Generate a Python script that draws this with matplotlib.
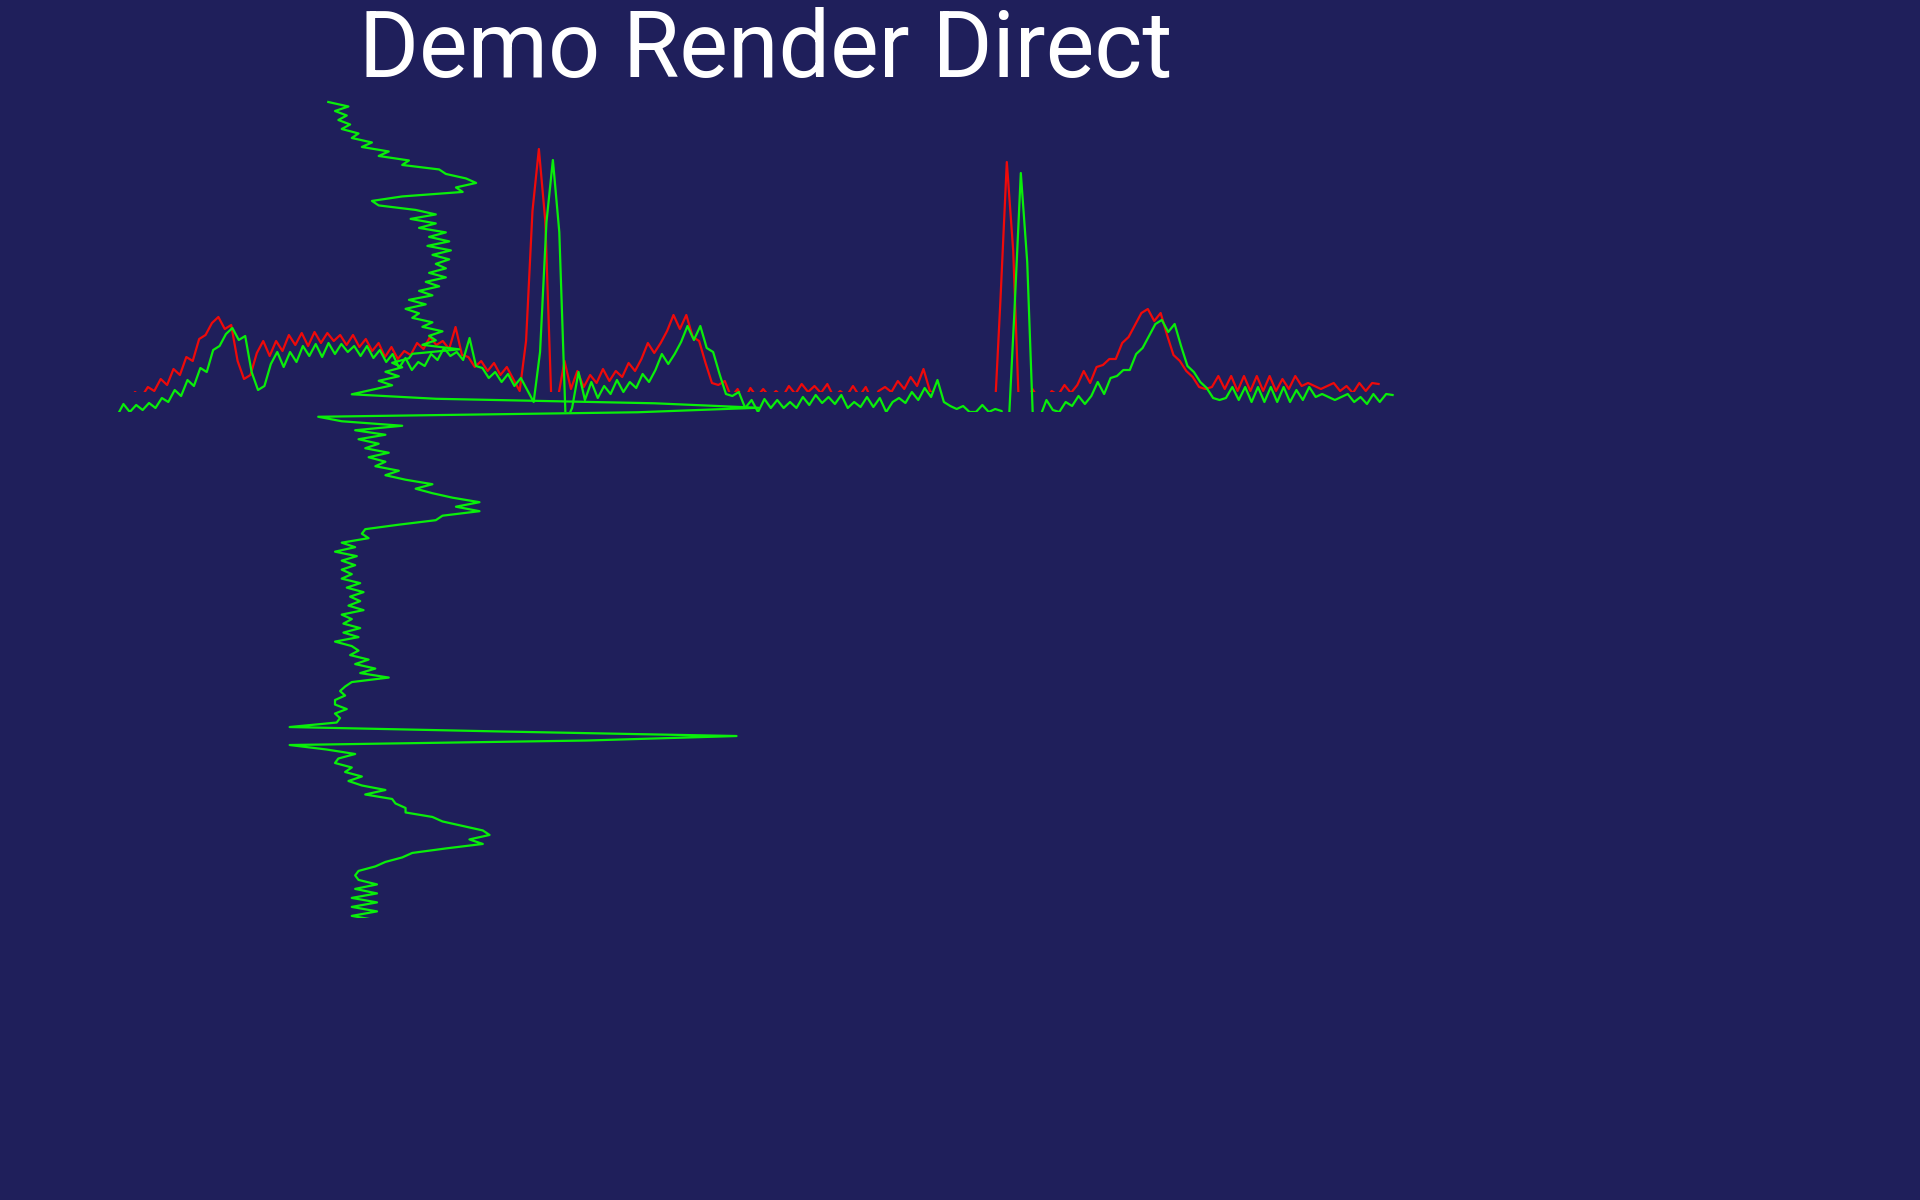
import numpy as np
import matplotlib
matplotlib.use("Agg")
import matplotlib.pyplot as plt

# one ECG trace (arbitrary counts), sampled at a fixed rate
ecg_counts = [
    -4, 8, 0, 7, 2, 9, 4, 14, 10, 22,
    16, 32, 26, 44, 40, 62, 66, 78, 84, 72,
    76, 40, 22, 26, 48, 60, 45, 60, 50, 66,
    56, 68, 55, 69, 58, 68, 60, 66, 56, 66,
    54, 62, 50, 58, 44, 54, 42, 50, 46, 58,
    52, 64, 56, 60, 52, 74, 46, 44, 34, 40,
    30, 38, 26, 34, 22, 10, 60, 190, 252, 180,
    -10, 4, 40, 12, 30, 14, 26, 18, 32, 20,
    30, 24, 38, 30, 42, 58, 48, 58, 70, 86,
    72, 86, 64, 60, 38, 18, 16, 20, 4, 12,
    0, 13, 4, 12, 4, 10, 4, 15, 7, 17,
    9, 15, 8, 17, 4, 10, 5, 15, 5, 14,
    0, 10, 14, 9, 20, 12, 24, 15, 32, 10,
    6, 3, 6, 0, 0, 7, 0, 3, 1, -27,
    100, 239, 150, -27, -5, 12, 2, 0, 10, 6,
    16, 8, 16, 30, 18, 34, 36, 42, 42, 58,
    64, 76, 88, 92, 80, 88, 66, 46, 40, 30,
    24, 14, 12, 14, 25, 12, 25, 10, 25, 10,
    25, 10, 25, 10, 22, 12, 25, 15, 18, 15,
    12, 15, 18, 10, 15, 8, 18, 10, 18, 17,
]
sample_idx = np.arange(len(ecg_counts))

TITLE = "Demo Render Direct"
BG = "#1f1f5b"
GREEN = "#0aee0a"
RED = "#ee0a0a"

W, H = 1920, 1200
fig = plt.figure(figsize=(W / 100, H / 100), dpi=100, facecolor=BG)


def px_axes(left, top, right, bottom):
    # axes placed by pixel box (origin top-left)
    ax = fig.add_axes([left / W, 1 - bottom / H, (right - left) / W, (bottom - top) / H])
    ax.set_axis_off()
    return ax


def x_limits(left, right, x0, step):
    return (left - x0) / step, (right - x0) / step


STEP = 6.41  # px per sample on the horizontal sweeps

# red sweep (clipped at its baseline)
ax_r = px_axes(96, 92, 1386, 392)
ax_r.plot(sample_idx, ecg_counts, color=RED, lw=1.6)
ax_r.set_xlim(*x_limits(96, 1386, 103, STEP))
ax_r.set_ylim(9, 309)

# green sweep
ax_g = px_axes(110, 112, 1400, 412)
ax_g.plot(sample_idx, ecg_counts, color=GREEN, lw=1.6)
ax_g.set_xlim(*x_limits(110, 1400, 117, STEP))
ax_g.set_ylim(0, 300)

# green sweep drawn top-to-bottom
ax_v = px_axes(200, 90, 800, 918)
ax_v.plot(ecg_counts, sample_idx, color=GREEN, lw=1.6)
ax_v.set_xlim((200 - 335) / 1.68, (800 - 335) / 1.68)
ax_v.set_ylim((918 - 102) / 4.4966, (90 - 102) / 4.4966)

fig.text(766 / W, 1 - 77 / H, TITLE, color="white", fontsize=66,
         family=["Roboto", "DejaVu Sans"], ha="center", va="baseline")

fig.savefig("out.png", dpi=100, facecolor=BG)
